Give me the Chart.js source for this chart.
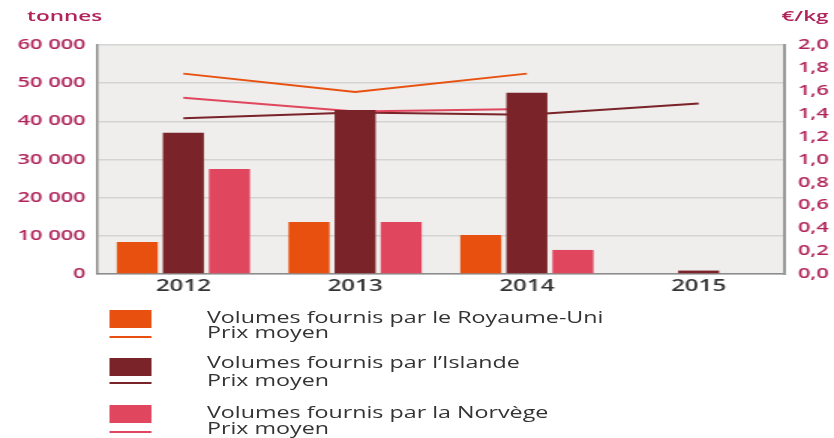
<!DOCTYPE html>
<html>
<head>
<meta charset="utf-8">
<script src="https://cdn.jsdelivr.net/npm/chart.js@4.4.0/dist/chart.umd.min.js"></script>
<style>
body { margin:0; background:#fff; }
#wrap { position:absolute; left:0; top:0; width:556px; height:438px; transform:scaleX(1.5); transform-origin:0 0; font-family:"Open Sans", sans-serif; }
#box { position:absolute; left:0; top:0; width:556px; height:300px; }
.unit { position:absolute; top:5px; font-size:15px; font-weight:600; color:#b0245a; }
.key { position:absolute; left:73px; width:28px; height:18px; }
.keyline { position:absolute; left:73px; width:28px; height:2px; }
.txt { position:absolute; left:138px; font-size:15.5px; line-height:16px; color:#333; white-space:nowrap; }
</style>
</head>
<body>
<div id="wrap">
	<div class="unit" style="left:18px">tonnes</div>
	<div class="unit" style="left:521px">€/kg</div>
	<div id="box"><canvas id="chart" width="556" height="300"></canvas></div>

	<div class="key" style="top:310px;background:#e8500f"></div>
	<div class="keyline" style="top:336px;background:#e8500f"></div>
	<div class="txt" style="top:309px">Volumes fournis par le Royaume-Uni</div>
	<div class="txt" style="top:324px">Prix moyen</div>

	<div class="key" style="top:358px;background:#7a2328"></div>
	<div class="keyline" style="top:382px;background:#7a2328"></div>
	<div class="txt" style="top:354px">Volumes fournis par l’Islande</div>
	<div class="txt" style="top:372px">Prix moyen</div>

	<div class="key" style="top:405px;background:#e0475e"></div>
	<div class="keyline" style="top:431px;background:#e0475e"></div>
	<div class="txt" style="top:404px">Volumes fournis par la Norvège</div>
	<div class="txt" style="top:420px">Prix moyen</div>
</div>
<script>
var years = ['2012', '2013', '2014', '2015'];

// volumes (tonnes)
var volUK = [8400, 13600, 10200, null];
var volIS = [37000, 43000, 47500, 900];
var volNO = [27500, 13600, 6300, null];

// prix moyen (€/kg)
var prixUK = [1.75, 1.59, 1.75, null];
var prixIS = [1.36, 1.41, 1.39, 1.49];
var prixNO = [1.54, 1.42, 1.44, null];

// axes
var tonnesMax = 60000, tonnesStep = 10000;
var prixMax = 2, prixStep = 0.2;

var orange = '#e8500f', dark = '#7a2328', pink = '#e0475e';
var tickColour = '#b0245a';

var plotBg = {
	id : 'plotBg',
	beforeDraw : function(chart) {
		var a = chart.chartArea, ctx = chart.ctx;
		ctx.save();
		ctx.fillStyle = '#efeeed';
		ctx.fillRect(a.left, a.top, a.right - a.left, a.bottom - a.top);
		ctx.restore();
	}
};

var barDs = function(label, data, colour) {
	return {
		type : 'bar',
		label : label,
		data : data,
		backgroundColor : colour,
		yAxisID : 'y',
		order : 1,
		categoryPercentage : 0.805,
		barPercentage : 0.89
	};
};
var lineDs = function(label, data, colour) {
	return {
		type : 'line',
		label : label,
		data : data,
		borderColor : colour,
		borderWidth : 2,
		pointRadius : 0,
		tension : 0,
		yAxisID : 'y2',
		order : 2
	};
};

var config = {
	data : {
		labels : years,
		datasets : [
			barDs('Volumes fournis par le Royaume-Uni', volUK, orange),
			barDs('Volumes fournis par l’Islande', volIS, dark),
			barDs('Volumes fournis par la Norvège', volNO, pink),
			lineDs('Prix moyen UK', prixUK, orange),
			lineDs('Prix moyen NO', prixNO, pink),
			lineDs('Prix moyen IS', prixIS, dark)
		]
	},
	options : {
		responsive : false,
		animation : false,
		layout : { padding : { top : 45, left : 0, right : 0, bottom : 0 } },
		plugins : { legend : { display : false }, tooltip : { enabled : false } },
		scales : {
			x : {
				offset : true,
				grid : { display : false, drawTicks : false },
				border : { color : '#8c8c8c', width : 1.5 },
				ticks : { color : '#333', font : { family : 'Open Sans', size : 16, weight : '600' }, padding : 3 },
				afterFit : function(s) { s.height = 26; }
			},
			y : {
				position : 'left',
				min : 0,
				max : tonnesMax,
				grid : { color : '#d3d3d3', lineWidth : 1.5, drawTicks : false },
				border : { color : '#8c8c8c', width : 1.5 },
				ticks : {
					stepSize : tonnesStep,
					color : tickColour,
					padding : 8,
					font : { family : 'Open Sans', size : 14.5, weight : '600' },
					callback : function(v) { return String(v).replace(/\B(?=(\d{3})+(?!\d))/g, ' '); }
				},
				afterFit : function(s) { s.width = 65; }
			},
			y2 : {
				position : 'right',
				min : 0,
				max : prixMax,
				grid : { display : false, drawTicks : false },
				border : { color : '#9a9a9a', width : 2 },
				ticks : {
					stepSize : prixStep,
					color : tickColour,
					padding : 9,
					font : { family : 'Open Sans', size : 14.5, weight : '600' },
					callback : function(v) { return v.toFixed(1).replace('.', ','); }
				},
				afterFit : function(s) { s.width = 33; }
			}
		}
	},
	plugins : [ plotBg ]
};

var ctx = document.getElementById('chart').getContext('2d');
window.myChart = new Chart(ctx, config);
</script>
</body>
</html>
